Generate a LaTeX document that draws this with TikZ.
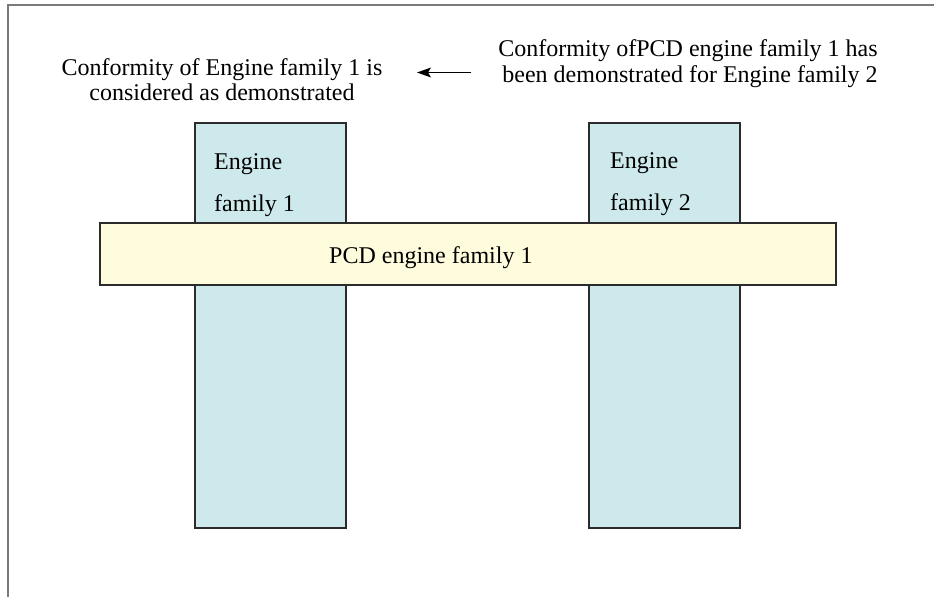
\documentclass[tikz,border=0pt]{standalone}
\usepackage{fontspec}
\setmainfont{Liberation Serif}
\usetikzlibrary{arrows.meta}
\definecolor{famblue}{HTML}{CDE9EC}
\definecolor{pcdyellow}{HTML}{FFFCDD}
\definecolor{edge}{HTML}{2B2B2B}
\definecolor{framegray}{HTML}{7A7A7A}
\begin{document}
\begin{tikzpicture}[x=1pt,y=-1pt,
  famrect/.style={draw=edge,line width=1.6pt,fill=famblue},
  pcdrect/.style={draw=edge,line width=1.6pt,fill=pcdyellow},
  txt/.style={inner sep=0pt,font=\fontsize{24}{26}\selectfont,text=black},
  leftline/.style={txt,anchor=base},
  boxline/.style={txt,anchor=base west}]
\useasboundingbox (0,0) rectangle (934,597);
% frame (open at right and bottom)
\draw[framegray,line width=1.4pt] (8,597) -- (8,5) -- (934,5);
% engine family boxes
\path[famrect] (195,123) rectangle (346,528);
\path[famrect] (589,123) rectangle (740,528);
\node[boxline] (f1a) at (214,169) {Engine};
\node[boxline] (f1b) at (214,211) {family 1};
\node[boxline] (f2a) at (610,168) {Engine};
\node[boxline] (f2b) at (610,210) {family 2};
% PCD bar
\path[pcdrect] (100,223) rectangle (836,285);
\node[boxline] (pcd) at (329,263) {PCD engine family 1};
% left text
\node[leftline] (l1) at (222,75) {Conformity of Engine family 1 is};
\node[leftline] (l2) at (222,100) {considered as demonstrated};
% right text
\node[leftline] (r1) at (688,56) {Conformity ofPCD engine family 1 has};
\node[leftline] (r2) at (690,82) {been demonstrated for Engine family 2};
% arrow
\coordinate (as) at (471,72.5);
\coordinate (ae) at (417,72.5);
\draw[black,line width=1.8pt,-{Stealth[length=14pt,width=10pt,inset=3pt,line width=0pt]}] (as) -- (ae);
\end{tikzpicture}
\end{document}
